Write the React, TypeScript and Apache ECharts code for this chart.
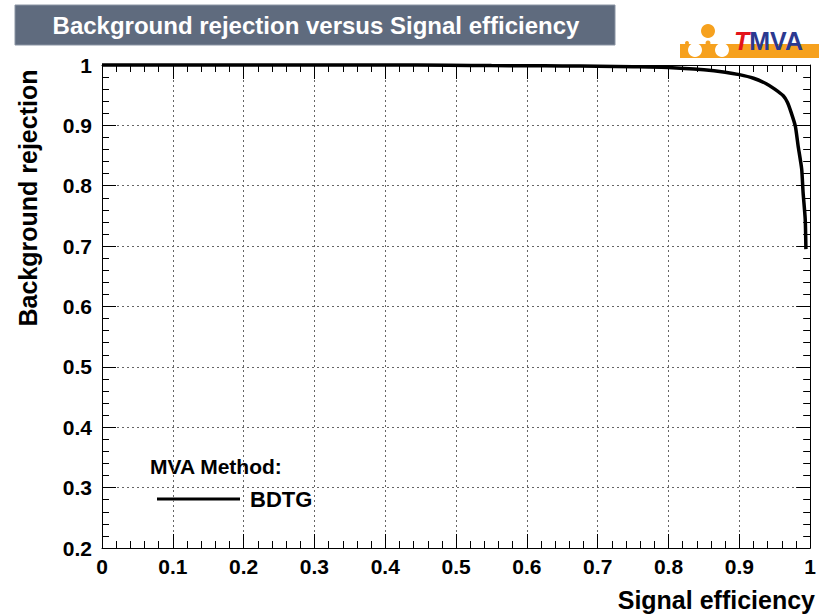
import React, { useEffect, useRef } from "react";
import * as echarts from "echarts";

// ROC curve of the BDTG classifier
const signalEfficiency = [
  0, 0.1, 0.2, 0.3, 0.4, 0.49, 0.55, 0.6, 0.65, 0.7, 0.75, 0.8, 0.85, 0.88, 0.9,
  0.92, 0.938, 0.95, 0.962, 0.968, 0.973, 0.979, 0.983, 0.988, 0.99, 0.993, 0.994,
];
const backgroundRejection = [
  1, 1, 1, 1, 1, 0.9995, 0.999, 0.9988, 0.9983, 0.998, 0.9972, 0.996, 0.992, 0.988,
  0.984, 0.978, 0.969, 0.96, 0.949, 0.938, 0.922, 0.899, 0.866, 0.828, 0.789, 0.745,
  0.695,
];

const methodName = "BDTG";
const titleText = "Background rejection versus Signal efficiency";
const xTitle = "Signal efficiency";
const yTitle = "Background rejection";

const FONT = "'Liberation Sans', Arial, Helvetica, sans-serif";

const fmt = (v: number) => String(Math.round(v * 10) / 10);

function axisBase(min: number, max: number, labels: boolean, grid: boolean, margin = 8) {
  return {
    type: "value" as const,
    min,
    max,
    interval: 0.1,
    axisLine: { show: true, onZero: false, lineStyle: { color: "#000", width: 1 } },
    axisTick: { show: true, inside: true, length: 14, lineStyle: { color: "#000", width: 1 } },
    minorTick: { show: true, splitNumber: 5, length: 7, lineStyle: { color: "#000", width: 1 } },
    splitLine: {
      show: grid,
      lineStyle: { color: "#666", width: 1, type: [2, 3] as number[] },
    },
    minorSplitLine: { show: false },
    axisLabel: labels
      ? {
          show: true,
          fontFamily: FONT,
          fontWeight: "bold" as const,
          fontSize: 21,
          color: "#000",
          margin,
          formatter: fmt,
        }
      : { show: false },
  };
}

export default function App() {
  const ref = useRef<HTMLDivElement>(null);

  useEffect(() => {
    if (!ref.current) return;
    const chart = echarts.init(ref.current, undefined, { renderer: "svg" });

    const orange = "#f6a11e";

    chart.setOption({
      animation: false,
      backgroundColor: "#fff",
      grid: { left: 102, top: 65, width: 714, height: 483, containLabel: false },
      xAxis: [
        { ...axisBase(0, 1, true, true, 8), position: "bottom" },
        { ...axisBase(0, 1, false, false), position: "top" },
      ],
      yAxis: [
        { ...axisBase(0.2, 1, true, true, 10), position: "left" },
        { ...axisBase(0.2, 1, false, false), position: "right" },
      ],
      series: [
        {
          type: "line",
          name: methodName,
          xAxisIndex: 0,
          yAxisIndex: 0,
          data: signalEfficiency.map((x, i) => [x, backgroundRejection[i]]),
          showSymbol: false,
          smooth: 0.2,
          clip: false,
          lineStyle: { color: "#000", width: 3.5 },
          z: 5,
        },
      ],
      graphic: [
        // title box
        {
          type: "rect",
          shape: { x: 15, y: 5, width: 600, height: 40 },
          style: { fill: "#5f6b7e", stroke: "#8a94a3", lineWidth: 1 },
        },
        {
          type: "text",
          x: 316,
          y: 25,
          style: {
            text: titleText,
            fill: "#fff",
            font: `bold 24px ${FONT}`,
            align: "center",
            verticalAlign: "middle",
          },
        },
        // TMVA logo
        {
          type: "rect",
          shape: { x: 680, y: 44, width: 139, height: 14 },
          style: { fill: orange },
        },
        { type: "circle", shape: { cx: 708, cy: 31, r: 7 }, style: { fill: orange } },
        { type: "circle", shape: { cx: 695, cy: 50, r: 7 }, style: { fill: "#fff" } },
        { type: "circle", shape: { cx: 722, cy: 50, r: 7 }, style: { fill: "#fff" } },
        { type: "circle", shape: { cx: 708, cy: 43, r: 2.5 }, style: { fill: orange } },
        { type: "circle", shape: { cx: 687, cy: 43, r: 2 }, style: { fill: orange } },
        {
          type: "text",
          x: 734,
          y: 41,
          style: {
            text: "{t|T}{m|MVA}",
            verticalAlign: "middle",
            rich: {
              t: { fill: "#e3141b", font: `italic bold 25px ${FONT}` },
              m: { fill: "#2b3990", font: `bold 25px ${FONT}` },
            },
          },
        },
        // axis titles
        {
          type: "text",
          x: 28,
          y: 198,
          rotation: Math.PI / 2,
          style: {
            text: yTitle,
            fill: "#000",
            font: `bold 25px ${FONT}`,
            align: "center",
            verticalAlign: "middle",
          },
        },
        {
          type: "text",
          x: 815,
          y: 600,
          style: {
            text: xTitle,
            fill: "#000",
            font: `bold 25px ${FONT}`,
            align: "right",
            verticalAlign: "middle",
          },
        },
        // legend
        {
          type: "text",
          x: 150,
          y: 466,
          style: {
            text: "MVA Method:",
            fill: "#000",
            font: `bold 21px ${FONT}`,
            align: "left",
            verticalAlign: "middle",
          },
        },
        {
          type: "line",
          shape: { x1: 157, y1: 499, x2: 240, y2: 499 },
          style: { stroke: "#000", lineWidth: 3 },
        },
        {
          type: "text",
          x: 250,
          y: 499,
          style: {
            text: methodName,
            fill: "#000",
            font: `bold 22px ${FONT}`,
            align: "left",
            verticalAlign: "middle",
          },
        },
      ],
    });

    return () => chart.dispose();
  }, []);

  return (
    <div
      ref={ref}
      style={{ position: "fixed", left: 0, top: 0, width: 819, height: 614 }}
    />
  );
}
